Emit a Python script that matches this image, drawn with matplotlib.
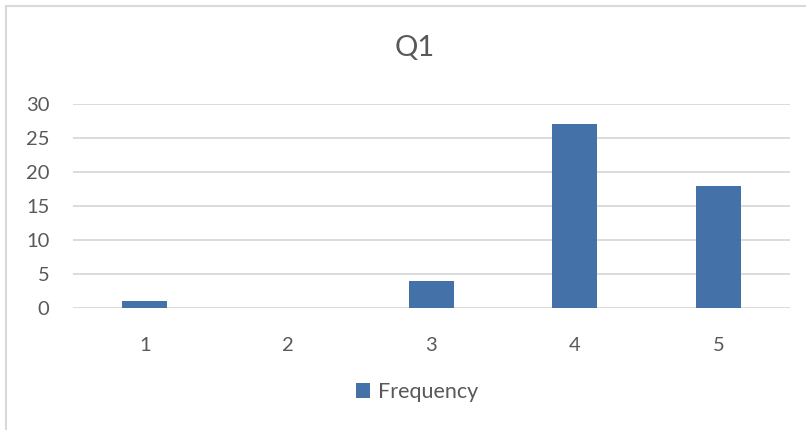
import matplotlib.pyplot as plt
from matplotlib.patches import Rectangle

categories = ['1', '2', '3', '4', '5']
frequency = [1, 0, 4, 27, 18]
y_ticks = [0, 5, 10, 15, 20, 25, 30]

bar_color = '#4472A8'
text_color = '#595959'
grid_color = '#D9D9D9'

plt.rcParams['font.family'] = ['Lato', 'DejaVu Sans']

W, H = 806, 430
fig = plt.figure(figsize=(W / 100, H / 100), dpi=100)

# chart border, cut off at the right and bottom edges
fig.patches.append(Rectangle((6 / W, -0.1), 1.2, 1 - 6 / H + 0.1,
                             transform=fig.transFigure, fill=False,
                             edgecolor=grid_color, linewidth=1.5))

# plot area in pixels: x 73..790, y 104..308
ax = fig.add_axes([73 / W, 1 - 308 / H, (790 - 73) / W, (308 - 104) / H])
x = range(len(categories))
ax.bar(x, frequency, width=0.313, color=bar_color, zorder=3)

ax.set_xlim(-0.5, len(categories) - 0.5)
ax.set_ylim(0, 30)
ax.set_yticks(y_ticks)
ax.set_xticks(list(x))
ax.set_xticklabels(categories)
ax.grid(axis='y', color=grid_color, linewidth=1.3, zorder=0)
for s in ax.spines.values():
    s.set_visible(False)
ax.tick_params(length=0, labelsize=14.5, colors=text_color)
ax.tick_params(axis='y', pad=17)
ax.tick_params(axis='x', pad=21)

fig.text(415 / W, 1 - 48 / H, 'Q1', ha='center', va='center',
         fontsize=21, color=text_color)

ax.legend(['Frequency'], loc='center', bbox_to_anchor=(417 / W, 1 - 392 / H),
          bbox_transform=fig.transFigure, frameon=False, fontsize=15.5,
          labelcolor=text_color, handlelength=0.65, handleheight=0.65,
          handletextpad=0.35)

fig.savefig('out.png', dpi=100)
